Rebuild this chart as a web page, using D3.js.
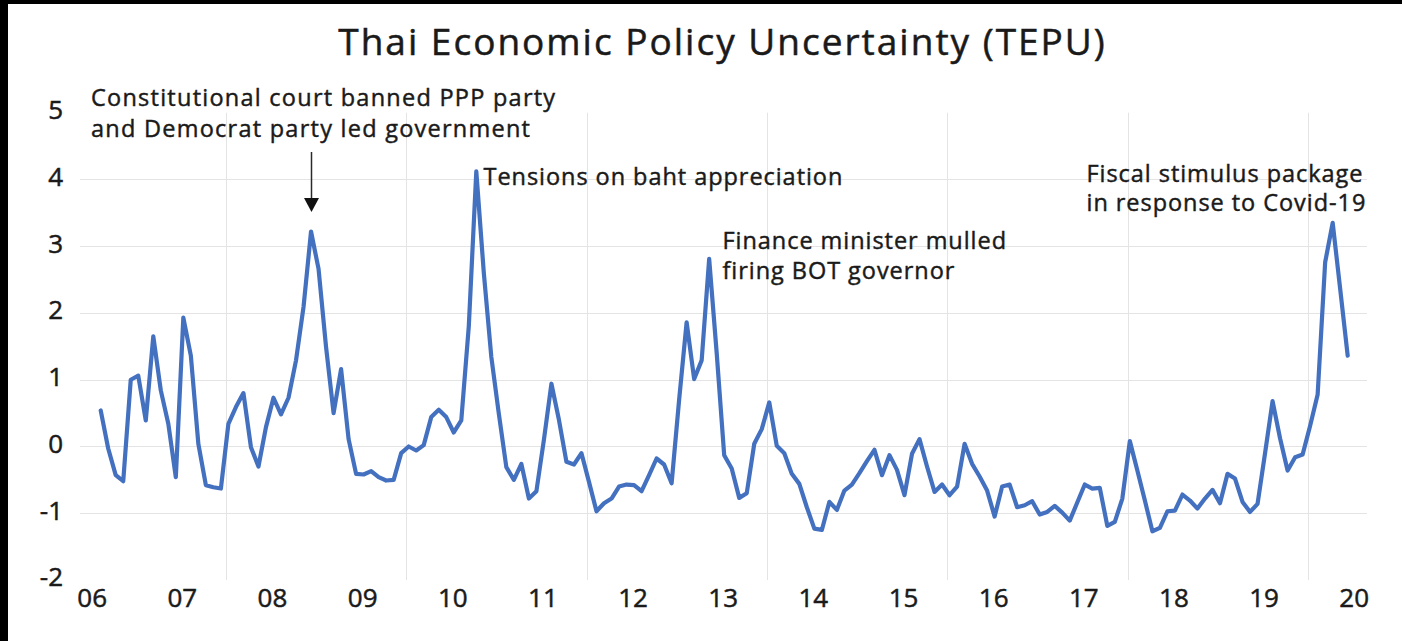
<!DOCTYPE html>
<html>
<head>
<meta charset="utf-8">
<script src="https://cdn.jsdelivr.net/npm/d3@7"></script>
<style>
  html, body { margin: 0; padding: 0; background: #fff; }
  svg { display: block; font-family: "Open Sans", "Noto Sans", sans-serif; }
</style>
</head>
<body>
<svg id="chart" width="1402" height="641"></svg>
<script>
// ---- data -------------------------------------------------------------
const chartTitle = "Thai Economic Policy Uncertainty (TEPU)";
const yearLabels = ["06","07","08","09","10","11","12","13","14","15","16","17","18","19","20"];
const yTickValues = [-2, -1, 0, 1, 2, 3, 4, 5];

// monthly TEPU index (standardised)
const tepu = [
   0.54, -0.03, -0.43, -0.52,  1.00,  1.06,  0.39,  1.65,  0.84,  0.34,
  -0.46,  1.93,  1.36,  0.04, -0.58, -0.61, -0.63,  0.34,  0.59,  0.80,
  -0.01, -0.30,  0.29,  0.73,  0.48,  0.73,  1.29,  2.09,  3.22,  2.66,
   1.49,  0.50,  1.16,  0.11, -0.41, -0.42, -0.37, -0.46, -0.51, -0.50,
  -0.10,  0.00, -0.06,  0.02,  0.44,  0.55,  0.44,  0.21,  0.39,  1.80,
   4.12,  2.60,  1.34,  0.49, -0.31, -0.50, -0.26, -0.78, -0.67,  0.10,
   0.94,  0.40, -0.23, -0.27, -0.10, -0.53, -0.97, -0.85, -0.78, -0.60,
  -0.57, -0.58, -0.67, -0.43, -0.18, -0.27, -0.55,  0.70,  1.86,  1.01,
   1.29,  2.81,  1.40, -0.13, -0.33, -0.77, -0.70,  0.04,  0.26,  0.66,
   0.01, -0.10, -0.41, -0.56, -0.91, -1.23, -1.25, -0.83, -0.95, -0.66,
  -0.57, -0.40, -0.22, -0.05, -0.43, -0.13, -0.35, -0.73, -0.11,  0.11,
  -0.30, -0.68, -0.57, -0.73, -0.60,  0.04, -0.26, -0.45, -0.66, -1.05,
  -0.60, -0.57, -0.91, -0.88, -0.82, -1.02, -0.98, -0.89, -0.99, -1.11,
  -0.84, -0.57, -0.63, -0.62, -1.19, -1.13, -0.78,  0.08, -0.36, -0.81,
  -1.27, -1.22, -0.97, -0.96, -0.72, -0.81, -0.93, -0.78, -0.65, -0.85,
  -0.41, -0.48, -0.83, -0.98, -0.86, -0.10,  0.68,  0.12, -0.36, -0.16,
  -0.12,  0.31,  0.78,  2.76,  3.35,  2.36,  1.36
];

const noteCourt    = ["Constitutional court banned PPP party", "and Democrat party led government"];
const noteBaht     = ["Tensions on baht appreciation"];
const noteFinance  = ["Finance minister mulled", "firing BOT governor"];
const noteCovid    = ["Fiscal stimulus package", "in response to Covid-19"];
const courtPeakIndex = 28;

// ---- layout -----------------------------------------------------------
const W = 1402, H = 641;
const plot = { left: 80, right: 1367, top: 112.7, bottom: 580 };
const lineColor = "#4470c0";
const gridColor = "#e4e4e4";
const textColor = "#1a1a1a";

const svg = d3.select("#chart");
svg.append("rect").attr("width", W).attr("height", H).attr("fill", "#fff");

const x = d3.scaleLinear().domain([0, tepu.length - 1]).range([100.7, 1347.7]);
const y = d3.scaleLinear().domain([-2, 5]).range([plot.bottom, plot.top]);

// text helper: slight outline gives the heavier look of the labels
function weighty(sel, w) {
  return sel.attr("stroke", textColor).attr("stroke-width", w).attr("paint-order", "stroke");
}

// gridlines
const grid = svg.append("g").attr("stroke", gridColor).attr("stroke-width", 1);
grid.selectAll("line.h")
  .data(yTickValues.filter(v => v > -2 && v < 5))
  .join("line")
  .attr("class", "h")
  .attr("x1", plot.left).attr("x2", plot.right)
  .attr("y1", d => Math.round(y(d)) + 0.5).attr("y2", d => Math.round(y(d)) + 0.5);

const vGridMonths = d3.range(7).map(k => 16.7 + 24 * k);
grid.selectAll("line.v")
  .data(vGridMonths)
  .join("line")
  .attr("class", "v")
  .attr("x1", d => Math.round(x(d)) + 0.5).attr("x2", d => Math.round(x(d)) + 0.5)
  .attr("y1", plot.top).attr("y2", plot.bottom);

// y axis
const yAxis = svg.append("g")
  .attr("transform", "translate(63,0)")
  .call(d3.axisLeft(y).tickValues(yTickValues).tickSize(0).tickPadding(0)
        .tickFormat(d => String(d)));
yAxis.select(".domain").remove();
weighty(yAxis.selectAll("text")
  .attr("dy", "0.23em")
  .attr("fill", textColor)
  .style("font-size", "26px")
  .style("font-family", "'Open Sans', sans-serif"), 0.5);

// x axis (year labels)
const xTickValues = yearLabels.map((_, k) => 12 * k - 1.2);
const xAxis = svg.append("g")
  .attr("transform", "translate(0,607)")
  .call(d3.axisBottom(x).tickValues(xTickValues).tickSize(0).tickPadding(0)
        .tickFormat((d, i) => yearLabels[i]));
xAxis.select(".domain").remove();
weighty(xAxis.selectAll("text")
  .attr("dy", null).attr("y", 0)
  .attr("fill", textColor)
  .style("font-size", "26px")
  .style("font-family", "'Open Sans', sans-serif"), 0.5);

// series line
svg.append("path")
  .datum(tepu)
  .attr("fill", "none")
  .attr("stroke", lineColor)
  .attr("stroke-width", 4.2)
  .attr("stroke-linejoin", "round")
  .attr("stroke-linecap", "round")
  .attr("d", d3.line().x((d, i) => x(i)).y(d => y(d)));

// title
weighty(svg.append("text")
  .attr("x", 722.5).attr("y", 55)
  .attr("text-anchor", "middle")
  .attr("fill", textColor)
  .style("font-size", "37px")
  .style("letter-spacing", "2px")
  .text(chartTitle), 0.5);

// annotations
function note(lines, x0, y0, lineGap, spacing) {
  const t = svg.append("text")
    .attr("fill", textColor)
    .style("font-size", "23.5px")
    .style("letter-spacing", spacing + "px");
  weighty(t, 0.45);
  lines.forEach((s, i) => {
    t.append("tspan").attr("x", x0).attr("y", y0 + i * lineGap).text(s);
  });
}
note(noteCourt, 91, 106, 31, 1.25);
note(noteBaht, 483.5, 185, 31, 0.95);
note(noteFinance, 722.5, 248.5, 30.5, 0.95);
note(noteCovid, 1086.5, 181.5, 29.5, 0.95);

// arrow to the 2008 peak
const ax = Math.round(x(courtPeakIndex)) + 0.5;
svg.append("line")
  .attr("x1", ax).attr("x2", ax)
  .attr("y1", 152).attr("y2", 200)
  .attr("stroke", "#2a2a2a").attr("stroke-width", 1.5);
svg.append("path")
  .attr("d", d3.line()([[ax - 7.5, 198], [ax + 7.5, 198], [ax, 212]]) + "Z")
  .attr("fill", "#111");

// dark frame edges
svg.append("rect").attr("x", 0).attr("y", 0).attr("width", W).attr("height", 4).attr("fill", "#000");
svg.append("rect").attr("x", 0).attr("y", 0).attr("width", 8).attr("height", H).attr("fill", "#000");
</script>
</body>
</html>
